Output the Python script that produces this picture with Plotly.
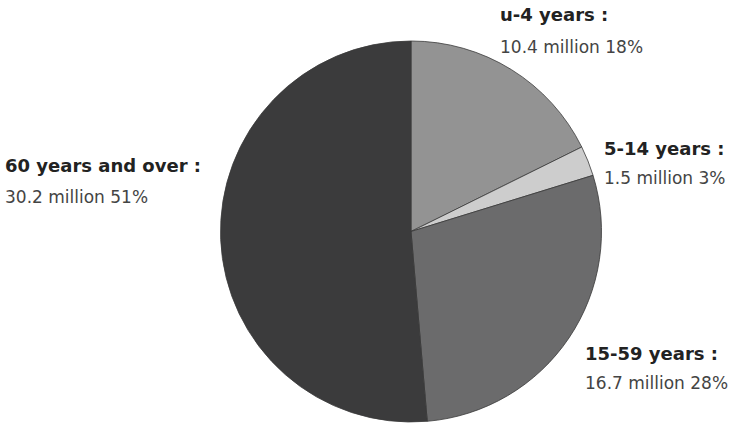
import plotly.graph_objects as go

categories = ["u-4 years :", "5-14 years :", "15-59 years :", "60 years and over :"]
values_million = [10.4, 1.5, 16.7, 30.2]
percent_labels = [18, 3, 28, 51]
slice_colors = ["#939393", "#cdcdcd", "#6b6b6c", "#3b3b3c"]

W, H = 732, 432

fig = go.Figure()
fig.add_trace(go.Pie(
    labels=categories,
    values=values_million,
    sort=False,
    direction="clockwise",
    rotation=0,
    textinfo="none",
    hoverinfo="none",
    showlegend=False,
    marker=dict(colors=slice_colors, line=dict(color="#3a3a3a", width=0.8)),
    domain=dict(x=[220.5 / W, 601.5 / W], y=[1 - 422 / H, 1 - 41 / H]),
))

# label positions (pixels: left x, center y of first line, center y of second line)
label_pos = [(498, 14, 47), (602, 148, 178), (583, 353, 383), (3, 165, 197)]

for cat, v, p, (lx, y1, y2) in zip(categories, values_million, percent_labels, label_pos):
    fig.add_annotation(
        x=lx / W, y=1 - y1 / H, xref="paper", yref="paper",
        xanchor="left", yanchor="middle", showarrow=False,
        text=f"<b>{cat}</b>",
        font=dict(family="DejaVu Sans", size=18, color="#222222"),
    )
    fig.add_annotation(
        x=lx / W, y=1 - y2 / H, xref="paper", yref="paper",
        xanchor="left", yanchor="middle", showarrow=False,
        text=f"{v} million {p}%",
        font=dict(family="DejaVu Sans", size=17, color="#444444"),
    )

fig.update_layout(
    width=W, height=H,
    margin=dict(l=0, r=0, t=0, b=0),
    paper_bgcolor="white",
    plot_bgcolor="white",
)

fig.write_html(
    "out.html",
    config={"displayModeBar": False},
    post_script="document.body.style.margin='0';document.body.style.overflow='hidden';",
)
